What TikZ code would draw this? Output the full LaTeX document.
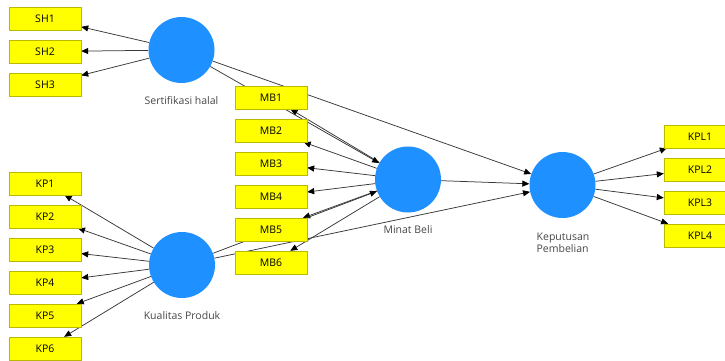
\documentclass[tikz,border=0pt]{standalone}
\usepackage{fontspec}
\setmainfont{Open Sans}
\usetikzlibrary {arrows.meta,backgrounds,positioning}
\definecolor{boxyellow}{RGB}{255,255,0}
\definecolor{boxedge}{RGB}{185,185,0}
\definecolor{lvblue}{RGB}{30,144,255}
\definecolor{pathgray}{RGB}{55,55,55}
\definecolor{textgray}{RGB}{70,70,70}

\begin{document}
\begin{tikzpicture}[x=1pt,y=-1pt,node distance= 33pt,font=\fontsize{10.5}{12.5}\selectfont]
      \useasboundingbox (0,0) rectangle (725,360);
      \begin{scope}[every node/.style={rectangle,draw=boxedge,fill=boxyellow,minimum width=72pt,minimum height=23pt,inner sep=0pt}]
        \node (SH1) at (45,18.5) {SH1};
        \node (SH2) [below of= SH1] {SH2};
        \node (SH3) [below of= SH2] {SH3};
        \node (KP1) at (45,183.5) {KP1};
        \node (KP2) [below of= KP1] {KP2};
        \node (KP3) [below of= KP2] {KP3};
        \node (KP4) [below of= KP3] {KP4};
        \node (KP5) [below of= KP4] {KP5};
        \node (KP6) [below of= KP5] {KP6};
        \node (MB1) at (271,97.5) {MB1};
        \node (MB2) [below of= MB1] {MB2};
        \node (MB3) [below of= MB2] {MB3};
        \node (MB4) [below of= MB3] {MB4};
        \node (MB5) [below of= MB4] {MB5};
        \node (MB6) [below of= MB5] {MB6};
        \node (KPL1) at (700,136.5) {KPL1};
        \node (KPL2) [below of= KPL1] {KPL2};
        \node (KPL3) [below of= KPL2] {KPL3};
        \node (KPL4) [below of= KPL3] {KPL4};
      \end{scope}
      \begin{scope}[every node/.style={circle,fill=lvblue,minimum size=66pt,inner sep=0pt}]
        \node (SH) at (181.5,50) {};
        \node (KP) at (182,265) {};
        \node (MB) at (408,179.5) {};
        \node (KPL) at (562.5,185) {};
      \end{scope}
      \begin{scope}[every node/.style={text=textgray,inner sep=0pt}]
        \node (SHname) at (181.5,101) {Sertifikasi halal};
        \node (KPname) at (182,316) {Kualitas Produk};
        \node (MBname) at (408,230) {Minat Beli};
        \node (KPLname) [align=left] at (563,243) {Keputusan\\Pembelian};
      \end{scope}
      \begin{scope}
        [on background layer,
        every edge/.style={draw= pathgray, line width=0.75pt, -{Triangle[length=7pt,width=6pt,color=black]}}]
        \path (SH) edge (SH1);
        \path (SH) edge (SH2);
        \path (SH) edge (SH3);
        \path (KP) edge (KP1);
        \path (KP) edge (KP2);
        \path (KP) edge (KP3);
        \path (KP) edge (KP4);
        \path (KP) edge (KP5);
        \path (KP) edge (KP6);
        \path (MB) edge (MB1);
        \path (MB) edge (MB2);
        \path (MB) edge (MB3);
        \path (MB) edge (MB4);
        \path (MB) edge (MB5);
        \path (MB) edge (MB6);
        \path (KPL) edge (KPL1);
        \path (KPL) edge (KPL2);
        \path (KPL) edge (KPL3);
        \path (KPL) edge (KPL4);
        \path (SH) edge (MB);
        \path (SH) edge (KPL);
        \path (KP) edge (MB);
        \path (KP) edge (KPL);
        \path (MB) edge (KPL);
      \end{scope}
    \end{tikzpicture}
\end{document}
